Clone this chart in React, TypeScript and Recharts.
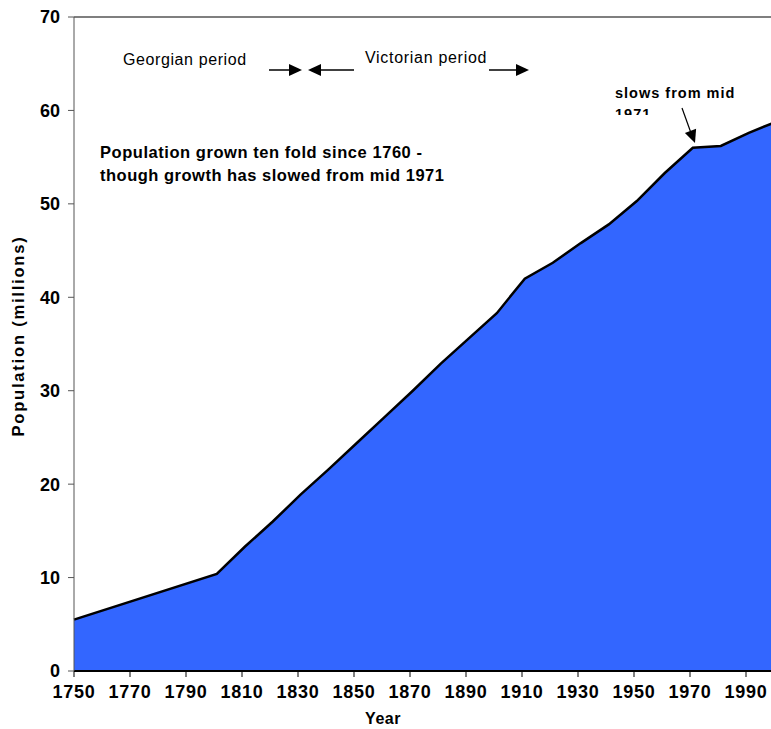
import { AreaChart, Area, XAxis, YAxis, ReferenceLine } from "recharts";

// census years and population (millions)
const years = [1750, 1801, 1811, 1821, 1831, 1841, 1851, 1861, 1871, 1881, 1891, 1901, 1911, 1921, 1931, 1941, 1951, 1961, 1971, 1981, 1991, 2000];
const population = [5.5, 10.4, 13.3, 16.0, 18.9, 21.6, 24.4, 27.2, 30.0, 32.9, 35.6, 38.3, 42.0, 43.7, 45.8, 47.8, 50.3, 53.3, 56.0, 56.2, 57.6, 58.7];
const yearTicks = [1750, 1770, 1790, 1810, 1830, 1850, 1870, 1890, 1910, 1930, 1950, 1970, 1990];
const popTicks = [0, 10, 20, 30, 40, 50, 60, 70];

const data = years.map((year, i) => ({ year, pop: population[i] }));

const FONT = "'Liberation Sans', Arial, sans-serif";

function Notes() {
  return (
    <svg
      width={771}
      height={729}
      style={{ position: "absolute", left: 0, top: 0, pointerEvents: "none" }}
      fontFamily={FONT}
    >
      <defs>
        <clipPath id="cut1971">
          <rect x={600} y={100} width={100} height={15} />
        </clipPath>
      </defs>
      <text x={123} y={65} fontSize={16} letterSpacing={0.6} fill="#000">Georgian period</text>
      <line x1={269} y1={70} x2={291} y2={70} stroke="#000" strokeWidth={1.5} />
      <polygon points="289,64 302,70 289,76" fill="#000" />
      <polygon points="308,70 321,64 321,76" fill="#000" />
      <line x1={319} y1={70} x2={354} y2={70} stroke="#000" strokeWidth={1.5} />
      <text x={365} y={63} fontSize={16} letterSpacing={0.7} fill="#000">Victorian period</text>
      <line x1={489} y1={70} x2={518} y2={70} stroke="#000" strokeWidth={1.5} />
      <polygon points="516,64 529,70 516,76" fill="#000" />

      <text x={100} y={158} fontSize={16.5} fontWeight="bold" letterSpacing={0.55} fill="#000">
        Population grown ten fold since 1760 -
      </text>
      <text x={100} y={181} fontSize={16.5} fontWeight="bold" letterSpacing={0.5} fill="#000">
        though growth has slowed from mid 1971
      </text>

      <text x={615} y={98} fontSize={14.5} fontWeight="bold" letterSpacing={1} fill="#000">slows from mid</text>
      <text x={615} y={119} fontSize={14.5} fontWeight="bold" letterSpacing={1} fill="#000" clipPath="url(#cut1971)">
        1971
      </text>
      <line x1={682} y1={108} x2={691} y2={133} stroke="#000" strokeWidth={1.2} />
      <polygon points="695,143 684.9,132.9 696.1,128.7" fill="#000" />

      <text x={383} y={724} textAnchor="middle" fontSize={16} fontWeight="bold" letterSpacing={0.5} fill="#000">
        Year
      </text>
      <text
        x={0}
        y={0}
        transform="translate(24,336) rotate(-90)"
        textAnchor="middle"
        fontSize={16.5}
        fontWeight="bold"
        letterSpacing={1.8}
        fill="#000"
      >
        Population (millions)
      </text>
    </svg>
  );
}

export default function App() {
  return (
    <div
      style={{
        position: "fixed",
        left: 0,
        top: 0,
        width: 771,
        height: 729,
        overflow: "hidden",
        background: "#fff",
      }}
    >
      <AreaChart
        width={780}
        height={729}
        data={data}
        margin={{ top: 17, right: 6, left: 0, bottom: 0 }}
      >
        <XAxis
          type="number"
          dataKey="year"
          domain={[1750, 2000]}
          ticks={yearTicks}
          interval={0}
          height={58}
          tickSize={6}
          tickMargin={8}
          axisLine={{ stroke: "#000", strokeWidth: 2 }}
          tickLine={{ stroke: "#000" }}
          tick={{ fill: "#000", fontSize: 18, fontWeight: "bold", fontFamily: FONT, letterSpacing: 0.8 }}
        />
        <YAxis
          type="number"
          domain={[0, 70]}
          ticks={popTicks}
          interval={0}
          width={74}
          tickSize={6}
          tickMargin={8}
          axisLine={{ stroke: "#555" }}
          tickLine={{ stroke: "#555" }}
          tick={{ fill: "#000", fontSize: 18, fontWeight: "bold", fontFamily: FONT }}
        />
        <ReferenceLine y={70} stroke="#555" strokeWidth={1.5} />
        <Area
          type="linear"
          dataKey="pop"
          stroke="#000"
          strokeWidth={2.5}
          fill="#3366ff"
          fillOpacity={1}
          dot={false}
          activeDot={false}
          isAnimationActive={false}
        />
      </AreaChart>
      <Notes />
    </div>
  );
}
